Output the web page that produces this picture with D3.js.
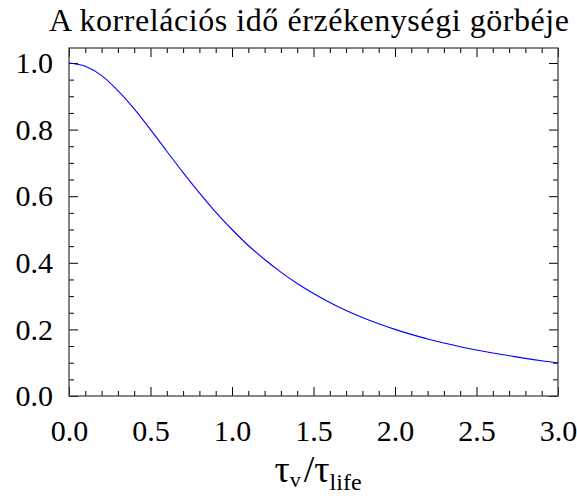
<!DOCTYPE html>
<html><head><meta charset="utf-8"><script src="https://cdn.jsdelivr.net/npm/d3@7"></script></head>
<body style="margin:0">
<svg id="chart" width="577" height="504"></svg>
<script>
// Sensitivity curve of the correlation time: x = tau_v / tau_life
const ratio = [0.0, 0.1, 0.2, 0.3, 0.4, 0.5, 0.6, 0.7, 0.8, 0.9, 1.0,
               1.1, 1.2, 1.3, 1.4, 1.5, 1.6, 1.7, 1.8, 1.9, 2.0,
               2.1, 2.2, 2.3, 2.4, 2.5, 2.6, 2.7, 2.8, 2.9, 3.0];
const sensitivity = [1.000, 0.990, 0.962, 0.917, 0.862, 0.800, 0.735, 0.671, 0.610, 0.552, 0.500,
                     0.452, 0.410, 0.372, 0.338, 0.308, 0.281, 0.257, 0.236, 0.217, 0.200,
                     0.185, 0.171, 0.159, 0.148, 0.138, 0.129, 0.121, 0.113, 0.106, 0.100];
const xTicks = [0.0, 0.5, 1.0, 1.5, 2.0, 2.5, 3.0];
const yTicks = [0.0, 0.2, 0.4, 0.6, 0.8, 1.0];
const titleText = "A korrelációs idő érzékenységi görbéje";

const FONT = '"Liberation Serif"';

const svg = d3.select("#chart");
const plotL = 69, plotR = 558, plotT = 48, plotB = 396;

const x = d3.scaleLinear().domain([0, 3]).range([plotL, plotR]);
const y = d3.scaleLinear().domain([0, 1.045]).range([plotB, plotT]);

const xMinor = d3.range(0, 3.0001, 0.1).map(v => +v.toFixed(2)).filter(v => !xTicks.includes(v));
const yMinor = d3.range(0, 1.0001, 0.05).map(v => +v.toFixed(2)).filter(v => !yTicks.includes(v));

const fmt = d3.format(".1f");

function styleAxis(g) {
  g.attr("font-family", null).attr("font-size", null);
  g.select(".domain").remove();
  g.selectAll(".tick line").attr("stroke", "#000").attr("stroke-width", 1);
  g.selectAll(".tick text")
    .style("font-family", FONT)
    .attr("font-size", 30)
    .attr("fill", "#000");
}

// bottom axis with labels, ticks pointing inward
svg.append("g").attr("transform", `translate(0,${plotB})`)
  .call(d3.axisBottom(x).tickValues(xTicks).tickFormat(fmt).tickSizeInner(-9).tickSizeOuter(0).tickPadding(24))
  .call(styleAxis);
svg.append("g").attr("transform", `translate(0,${plotB})`)
  .call(d3.axisBottom(x).tickValues(xMinor).tickFormat("").tickSizeInner(-5).tickSizeOuter(0))
  .call(styleAxis);
// top axis, ticks only
svg.append("g").attr("transform", `translate(0,${plotT})`)
  .call(d3.axisTop(x).tickValues(xTicks).tickFormat("").tickSizeInner(-9).tickSizeOuter(0))
  .call(styleAxis);
svg.append("g").attr("transform", `translate(0,${plotT})`)
  .call(d3.axisTop(x).tickValues(xMinor).tickFormat("").tickSizeInner(-5).tickSizeOuter(0))
  .call(styleAxis);

// left axis with labels
svg.append("g").attr("transform", `translate(${plotL},0)`)
  .call(d3.axisLeft(y).tickValues(yTicks).tickFormat(fmt).tickSizeInner(-9).tickSizeOuter(0).tickPadding(16))
  .call(styleAxis);
svg.append("g").attr("transform", `translate(${plotL},0)`)
  .call(d3.axisLeft(y).tickValues(yMinor).tickFormat("").tickSizeInner(-5).tickSizeOuter(0))
  .call(styleAxis);
// right axis, ticks only
svg.append("g").attr("transform", `translate(${plotR},0)`)
  .call(d3.axisRight(y).tickValues(yTicks).tickFormat("").tickSizeInner(-9).tickSizeOuter(0))
  .call(styleAxis);
svg.append("g").attr("transform", `translate(${plotR},0)`)
  .call(d3.axisRight(y).tickValues(yMinor).tickFormat("").tickSizeInner(-5).tickSizeOuter(0))
  .call(styleAxis);

// frame
svg.append("rect")
  .attr("x", plotL).attr("y", plotT)
  .attr("width", plotR - plotL).attr("height", plotB - plotT)
  .attr("fill", "none").attr("stroke", "#444").attr("stroke-width", 1.3);

// curve
const pts = ratio.map((r, i) => [r, sensitivity[i]]);
svg.append("path")
  .datum(pts)
  .attr("fill", "none")
  .attr("stroke", "#0000ff")
  .attr("stroke-width", 1.1)
  .attr("d", d3.line().x(d => x(d[0])).y(d => y(d[1])).curve(d3.curveMonotoneX));

// title
svg.append("text")
  .attr("x", 309).attr("y", 31)
  .attr("text-anchor", "middle")
  .style("font-family", FONT)
  .attr("font-size", 32)
  .attr("textLength", 520)
  .attr("lengthAdjust", "spacing")
  .attr("fill", "#000")
  .text(titleText);

// x axis label: tau_v / tau_life
const xl = svg.append("text")
  .attr("x", 318).attr("y", 482)
  .attr("text-anchor", "middle")
  .style("font-family", FONT)
  .attr("font-size", 38)
  .attr("fill", "#000");
xl.append("tspan").text("τ");
xl.append("tspan").attr("font-size", 22).attr("dy", 5).text("v");
xl.append("tspan").attr("dy", -5).attr("dx", 3).text("/τ");
xl.append("tspan").attr("font-size", 24).attr("dy", 8).text("life");
</script>
</body></html>
